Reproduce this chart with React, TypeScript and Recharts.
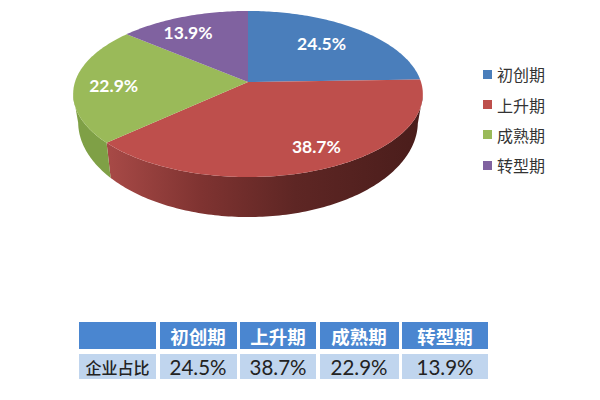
import { Legend, Pie, PieChart } from 'recharts'

const STAGES = ['初创期', '上升期', '成熟期', '转型期']
const SHARES = [24.5, 38.7, 22.9, 13.9]
const ROW_LABEL = '企业占比'
const COLORS = ['#4a7ebb', '#be4f4c', '#9aba59', '#8062a0']
const WALL_FILLS = ['#3a6496', 'url(#redWall)', '#7fa046', '#654e80']

// nudge of each label from the default spot, the labels were placed by hand in the original
const LABEL_NUDGE = [[-5, 0], [18, 6], [-13, 2], [-13, -2]]

const FONT = 'Lato, "Noto Sans CJK SC", sans-serif'
const CJK = '"Noto Sans CJK SC", sans-serif'

const pieData = STAGES.map((name, i) => ({ name, value: SHARES[i], fill: COLORS[i] }))

// the disc is tilted with some perspective, so the apex sits above the middle of the ellipse
const PERSPECTIVE = 0.1446
const TILT = 81.3 / 173
const WALL_X = 170 / 175
const WALL_Y = 95 / 83
const MID_DROP = 12
const WALL_MID_DROP = 28

function project(cx: number, cy: number, radius: number, angle: number, r = 1) {
  const a = (angle * Math.PI) / 180
  const u = r * Math.cos(a)
  const v = r * Math.sin(a)
  const w = 1 + PERSPECTIVE * v
  return { x: (radius * u) / w, y: (radius * TILT * v) / w, v, cx, cy }
}

function renderSlice(props: any) {
  const { cx, cy, outerRadius, startAngle, endAngle, fill, name } = props
  const top: string[] = []
  const wallTop: string[] = []
  const wallBottom: string[] = []
  const from = Math.max(startAngle, endAngle)
  const to = Math.min(startAngle, endAngle)
  const steps = Math.ceil(from - to)
  for (let i = 0; i <= steps; i++) {
    const p = project(cx, cy, outerRadius, from - ((from - to) * i) / steps)
    top.push(`${cx + p.x},${cy - p.y}`)
    if (p.v < -PERSPECTIVE) {
      wallTop.push(`${cx + p.x},${cy - p.y}`)
      const by = cy + MID_DROP + WALL_MID_DROP - (p.y + MID_DROP) * WALL_Y
      wallBottom.unshift(`${cx + p.x * WALL_X},${by}`)
    }
  }
  return (
    <g>
      {wallTop.length > 1 && (
        <path d={`M${wallTop.join('L')}L${wallBottom.join('L')}Z`} fill={WALL_FILLS[STAGES.indexOf(name)]} />
      )}
      <path d={`M${cx},${cy}L${top.join('L')}Z`} fill={fill} />
    </g>
  )
}

function renderLabel(props: any) {
  const { cx, cy, outerRadius, midAngle, value, index } = props
  const p = project(cx, cy, outerRadius, midAngle, 0.7)
  return (
    <text
      x={cx + p.x + LABEL_NUDGE[index][0]}
      y={cy - p.y + LABEL_NUDGE[index][1]}
      fill="#fff"
      fontFamily={FONT}
      fontSize={17.5}
      fontWeight={700}
      textAnchor="middle"
      dominantBaseline="central"
    >
      {value.toFixed(1)}%
    </text>
  )
}

function StageLegend({ payload }: any) {
  return (
    <div>
      {(payload ?? []).map((entry: any) => (
        <div key={entry.value} style={{ display: 'flex', alignItems: 'center', height: 30.4, fontFamily: CJK, fontSize: 16, color: '#333' }}>
          <span style={{ width: 9, height: 9, background: entry.color, marginRight: 5 }} />
          {entry.value}
        </div>
      ))}
    </div>
  )
}

const cell = (background: string, color: string, extra: object) => ({
  background,
  color,
  display: 'flex',
  alignItems: 'center',
  justifyContent: 'center',
  ...extra,
})

function ShareTable() {
  const head = { fontFamily: CJK, fontSize: 18.5, fontWeight: 700 }
  const body = { fontFamily: FONT, fontSize: 20.5 }
  return (
    <div
      style={{
        position: 'absolute', left: 79, top: 322, display: 'grid',
        gridTemplateColumns: '77px 77px 76px 79px 86px', gridTemplateRows: '27px 25px',
        columnGap: 3.5, rowGap: 5,
      }}
    >
      <div style={cell('#4a86d0', '#fff', head)} />
      {STAGES.map(s => <div key={s} style={cell('#4a86d0', '#fff', head)}>{s}</div>)}
      <div style={cell('#c0d5ee', '#222', { fontFamily: CJK, fontSize: 16, fontWeight: 500 })}>{ROW_LABEL}</div>
      {SHARES.map(v => <div key={v} style={cell('#c0d5ee', '#222', body)}>{v.toFixed(1)}%</div>)}
    </div>
  )
}

export default function App() {
  return (
    <div style={{ position: 'absolute', left: 0, top: 0, width: 600, height: 400, background: '#fff' }}>
      <PieChart width={600} height={300} margin={{ top: 0, right: 0, bottom: 0, left: 0 }}>
        <defs>
          <linearGradient id="redWall" gradientUnits="userSpaceOnUse" x1="107" y1="0" x2="420" y2="0">
            <stop offset="0" stopColor="#a84a47" />
            <stop offset="0.3" stopColor="#7f3331" />
            <stop offset="0.6" stopColor="#5e2624" />
            <stop offset="1" stopColor="#4a1d1b" />
          </linearGradient>
        </defs>
        <Pie
          data={pieData}
          dataKey="value"
          nameKey="name"
          cx={248}
          cy={82}
          outerRadius={173}
          startAngle={90}
          endAngle={-270}
          stroke="none"
          shape={renderSlice}
          label={renderLabel}
          labelLine={false}
          isAnimationActive={false}
        />
        <Legend
          content={<StageLegend />}
          layout="vertical"
          itemSorter={null}
          wrapperStyle={{ position: 'absolute', left: 483, top: 59, width: 80, bottom: 'auto', right: 'auto' }}
        />
      </PieChart>
      <ShareTable />
    </div>
  )
}
